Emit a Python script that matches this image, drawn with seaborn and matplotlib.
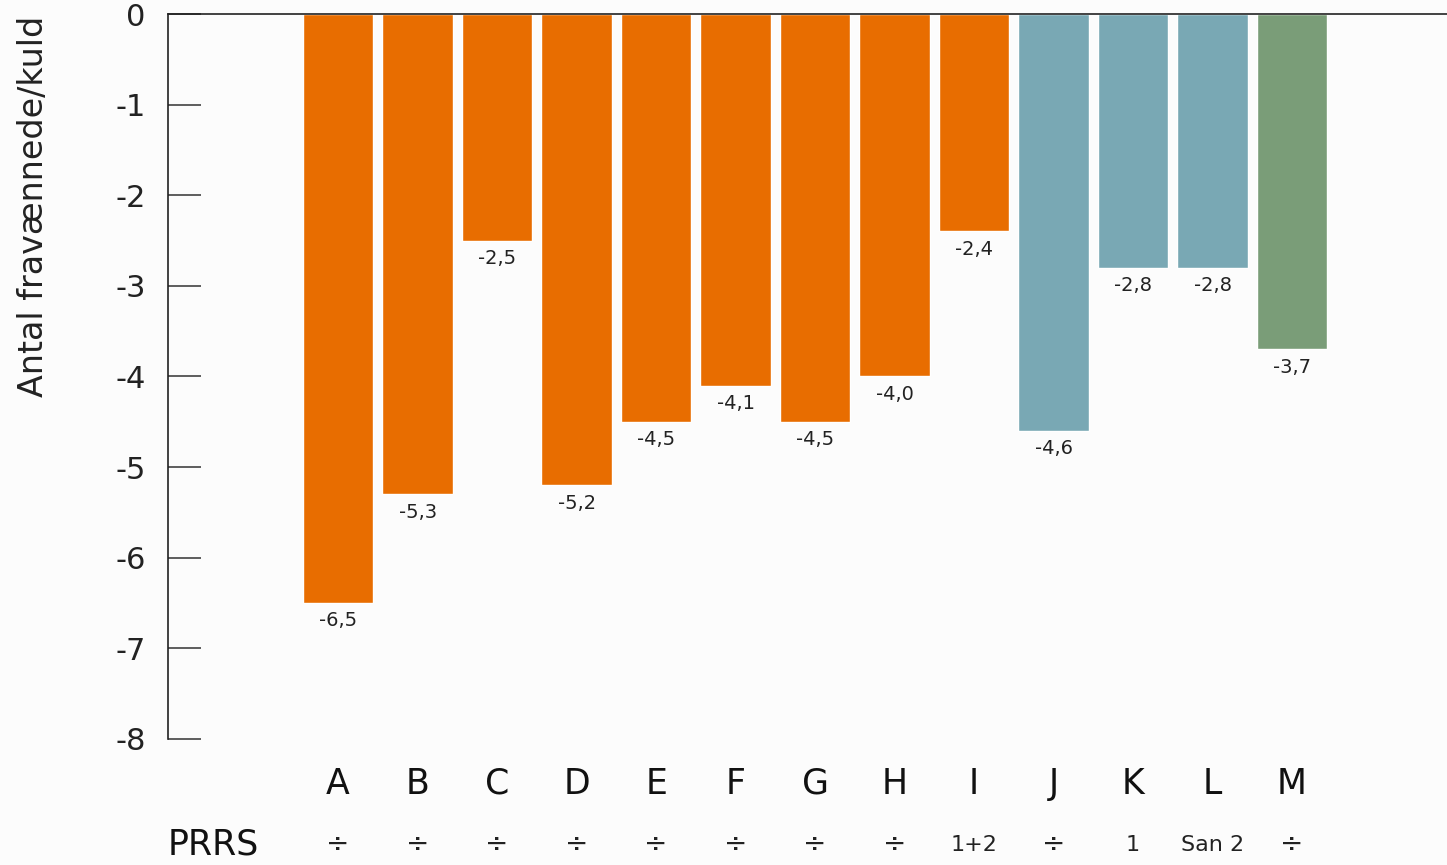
import pandas as pd
import matplotlib.pyplot as plt
import matplotlib.transforms as mtransforms
import seaborn as sns

categories = ['A', 'B', 'C', 'D', 'E', 'F', 'G', 'H', 'I', 'J', 'K', 'L', 'M']
values = [-6.5, -5.3, -2.5, -5.2, -4.5, -4.1, -4.5, -4.0, -2.4, -4.6, -2.8, -2.8, -3.7]
groups = ['g1'] * 9 + ['g2'] * 3 + ['g3']
prrs = ['÷', '÷', '÷', '÷', '÷', '÷', '÷', '÷', '1+2', '÷', '1', 'San 2', '÷']
palette = {'g1': '#E86D00', 'g2': '#79A8B4', 'g3': '#7A9D78'}

font = ['DejaVu Sans']


def main():
    sns.set_style('white')
    plt.rcParams['font.family'] = font

    data = pd.DataFrame({'cat': categories, 'val': values, 'grp': groups})

    fig = plt.figure(figsize=(14.47, 8.65), dpi=100, facecolor='#fcfcfc')
    ax = fig.add_axes([0.1161, 0.1457, 0.8839, 0.8381])
    ax.set_facecolor('#fcfcfc')

    sns.barplot(data=data, x='cat', y='val', hue='grp', palette=palette,
                dodge=False, width=0.89, legend=False, ax=ax, saturation=1)

    for cont in ax.containers:
        labels = [f"{b.get_height():.1f}".replace('.', ',') if b.get_height() != 0 else ''
                  for b in cont]
        ax.bar_label(cont, labels=labels, padding=6, fontsize=14, color='#222222')

    ax.set_xlim(-2.14, 13.95)
    ax.set_ylim(-8, 0)
    ax.set_yticks(range(-8, 1))
    ax.set_yticklabels([str(v) for v in range(-8, 1)], fontsize=22, color='#222222')
    ax.tick_params(axis='y', left=True, direction='in', length=24, width=1.1,
                   color='#333333', pad=16)
    ax.tick_params(axis='x', bottom=False, length=0, pad=20)
    ax.set_xticks(range(len(categories)))
    ax.set_xticklabels(categories, fontsize=25, color='#111111')

    for s in ['right', 'bottom']:
        ax.spines[s].set_visible(False)
    for s in ['left', 'top']:
        ax.spines[s].set_color('#222222')
        ax.spines[s].set_linewidth(1.2)

    ax.set_xlabel('')
    ax.set_ylabel('Antal fravænnede/kuld', fontsize=24, color='#222222')
    ax.yaxis.set_label_coords(-0.092, 0.735)

    trans = mtransforms.blended_transform_factory(ax.transData, ax.transAxes)
    for i, p in enumerate(prrs):
        size = 20 if p == '÷' else 16
        ax.text(i, -0.146, p, transform=trans, ha='center', va='center',
                fontsize=size, color='#222222')
    ax.text(0.0, -0.146, 'PRRS', transform=ax.transAxes, ha='left', va='center',
            fontsize=25, color='#111111')

    fig.savefig('out.png', dpi=100, facecolor=fig.get_facecolor())


main()
